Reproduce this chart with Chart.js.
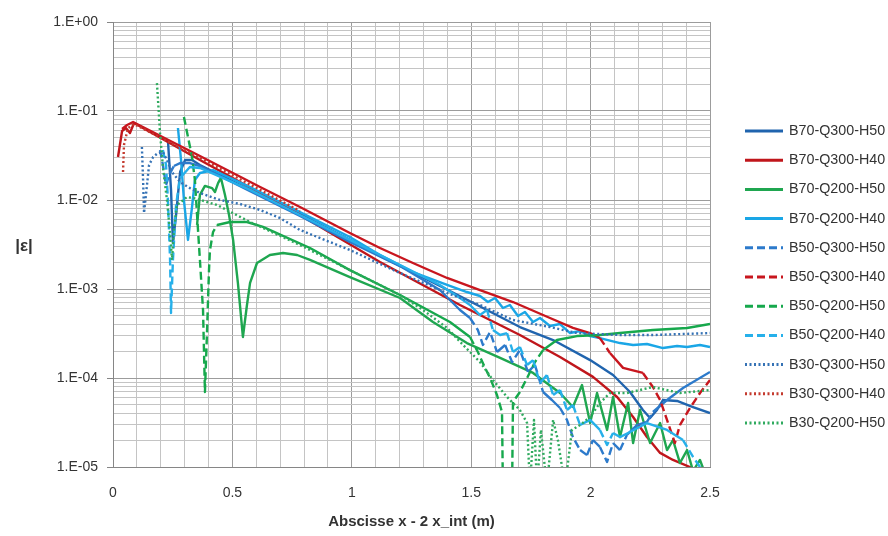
<!DOCTYPE html>
<html>
<head>
<meta charset="utf-8">
<title>|ε| versus abscisse</title>
<script src="https://cdn.jsdelivr.net/npm/chart.js@4.4.1/dist/chart.umd.min.js"></script>
<style>
  html, body { margin: 0; padding: 0; background: #ffffff; }
  #wrap { width: 888px; height: 536px; position: relative; }
</style>
</head>
<body>
<div id="wrap"><canvas id="chart" width="888" height="536"></canvas></div>
<script>
// ---- Series labels (legend order) ----
const seriesLabels = [
  'B70-Q300-H50', 'B70-Q300-H40', 'B70-Q200-H50', 'B70-Q200-H40',
  'B50-Q300-H50', 'B50-Q300-H40', 'B50-Q200-H50', 'B50-Q200-H40',
  'B30-Q300-H50', 'B30-Q300-H40', 'B30-Q200-H50'
];

// ---- Axis tick labels ----
const xTickLabels = ['0', '0.5', '1', '1.5', '2', '2.5'];
const yTickLabels = ['1.E-05', '1.E-04', '1.E-03', '1.E-02', '1.E-01', '1.E+00'];

// ---- Series values: [abscisse x - 2 x_int (m), |ε|] ----
const b70_q300_h50 = [[0.230,0.0472],[0.243,0.0130],[0.251,0.00329],[0.264,0.00678],[0.281,0.0206],[0.302,0.0281],[0.331,0.0281],[0.364,0.0247],[0.574,0.0130],[0.783,0.00696],[0.992,0.00356],[1.118,0.00235],[1.411,9.50e-4],[1.704,3.74e-4],[1.843,2.67e-4],[1.998,1.59e-4],[2.094,1.08e-4],[2.165,6.96e-5],[2.219,4.37e-5],[2.249,3.55e-5],[2.278,4.37e-5],[2.303,5.66e-5],[2.362,5.52e-5],[2.429,4.72e-5],[2.5,4.04e-5]];

const b70_q300_h40 = [[0.021,0.0304],[0.038,0.0596],[0.054,0.0644],[0.071,0.0566],[0.088,0.0733],[0.364,0.0281],[0.616,0.0120],[0.783,0.00678],[1.118,0.00201],[1.453,6.61e-4],[1.704,3.04e-4],[1.872,1.72e-4],[2.010,1.03e-4],[2.111,6.12e-5],[2.178,3.65e-5],[2.236,2.17e-5],[2.291,1.44e-5],[2.345,1.20e-5],[2.416,1.0e-5],[2.458,8.5e-6]];

const b70_q200_h50 = [[0.352,0.00524],[0.364,0.0114],[0.385,0.0144],[0.415,0.0136],[0.427,0.0123],[0.440,0.0155],[0.452,0.0177],[0.469,0.0114],[0.486,0.00678],[0.503,0.00356],[0.523,0.00117],[0.544,2.89e-4],[0.561,6.61e-4],[0.574,0.00117],[0.603,0.00196],[0.657,0.00241],[0.712,0.00254],[0.771,0.00241],[0.825,0.00212],[0.992,0.00136],[1.202,7.92e-4],[1.340,4.26e-4],[1.482,2.47e-4],[1.621,1.68e-4],[1.759,1.14e-4],[1.872,6.78e-5],[1.926,4.72e-5],[1.964,8.34e-5],[1.998,3.12e-5],[2.027,6.78e-5],[2.069,2.61e-5],[2.094,6.12e-5],[2.123,2.17e-5],[2.157,5.24e-5],[2.178,1.86e-5],[2.207,4.37e-5],[2.249,1.86e-5],[2.291,3.12e-5],[2.320,1.55e-5],[2.345,2.01e-5],[2.374,1.11e-5],[2.404,1.55e-5],[2.429,9.0e-6],[2.458,1.2e-5],[2.479,8.5e-6]];

const b70_q200_h40 = [[0.272,0.0644],[0.285,0.0281],[0.297,0.0100],[0.314,0.00356],[0.331,0.00834],[0.343,0.0168],[0.364,0.0201],[0.419,0.0217],[0.574,0.0140],[0.783,0.00733],[0.992,0.00384],[1.118,0.00241],[1.256,0.00155],[1.399,0.00111],[1.482,9.25e-4],[1.537,8.34e-4],[1.570,7.14e-4],[1.600,7.92e-4],[1.633,6.12e-4],[1.662,6.61e-4],[1.696,4.97e-4],[1.725,5.52e-4],[1.759,4.26e-4],[1.788,4.72e-4],[1.830,3.84e-4],[1.872,4.04e-4],[1.914,3.20e-4],[1.956,3.37e-4],[1.998,2.96e-4],[2.039,2.81e-4],[2.123,2.47e-4],[2.178,2.35e-4],[2.236,2.41e-4],[2.303,2.17e-4],[2.362,2.29e-4],[2.404,2.23e-4],[2.458,2.35e-4],[2.5,2.23e-4]];

const b50_q300_h50 = [[0.197,0.0365],[0.209,0.0247],[0.222,0.0147],[0.235,0.0191],[0.255,0.0241],[0.281,0.0260],[0.322,0.0260],[0.364,0.0241],[0.574,0.0126],[0.783,0.00661],[0.992,0.00338],[1.202,0.00181],[1.369,9.74e-4],[1.453,5.81e-4],[1.495,4.72e-4],[1.528,3.46e-4],[1.549,2.35e-4],[1.579,3.29e-4],[1.608,1.96e-4],[1.642,2.35e-4],[1.671,1.51e-4],[1.704,2.06e-4],[1.738,1.17e-4],[1.767,1.40e-4],[1.801,6.96e-5],[1.838,5.66e-5],[1.872,4.60e-5],[1.901,3.38e-5],[1.926,2.17e-5],[1.956,1.55e-5],[1.985,1.36e-5],[2.010,2.01e-5],[2.039,1.68e-5],[2.069,1.14e-5],[2.094,1.86e-5],[2.123,1.55e-5],[2.152,2.29e-5],[2.194,2.96e-5],[2.236,3.21e-5],[2.261,4.15e-5],[2.320,5.66e-5],[2.387,7.72e-5],[2.5,1.17e-4]];

const b50_q300_h40 = [[0.038,0.0628],[0.059,0.0696],[0.084,0.0752],[0.364,0.0312],[0.616,0.0140],[0.783,0.00834],[0.992,0.00426],[1.118,0.00289],[1.256,0.00196],[1.399,0.00133],[1.537,9.74e-4],[1.675,7.14e-4],[1.830,4.72e-4],[1.926,3.65e-4],[1.998,3.20e-4],[2.039,2.81e-4],[2.081,1.91e-4],[2.136,1.30e-4],[2.219,1.14e-4],[2.261,7.92e-5],[2.291,5.66e-5],[2.320,3.38e-5],[2.353,1.86e-5],[2.374,2.96e-5],[2.416,4.60e-5],[2.458,6.78e-5],[2.5,9.50e-5]];

const b50_q200_h50 = [[0.297,0.0857],[0.314,0.0510],[0.331,0.0304],[0.343,0.0168],[0.352,0.00678],[0.364,0.00212],[0.377,5.81e-4],[0.385,6.96e-5],[0.394,3.46e-4],[0.402,0.00163],[0.406,0.00274],[0.419,0.00437],[0.436,0.00524],[0.490,0.00566],[0.561,0.00566],[0.628,0.00498],[0.825,0.00289],[0.992,0.00163],[1.202,8.56e-4],[1.411,4.26e-4],[1.495,2.89e-4],[1.528,1.96e-4],[1.558,1.30e-4],[1.579,1.0e-4],[1.608,6.44e-5],[1.629,4.15e-5],[1.633,5e-6],[1.671,5e-6],[1.675,5.38e-5],[1.704,6.96e-5],[1.734,1.0e-4],[1.767,1.51e-4],[1.801,2.06e-4],[1.859,2.67e-4],[1.943,2.96e-4],[2.039,3.04e-4],[2.123,3.20e-4],[2.261,3.46e-4],[2.404,3.65e-4],[2.5,4.04e-4]];

const b50_q200_h40 = [[0.209,0.0365],[0.222,0.0247],[0.230,0.0100],[0.239,0.00212],[0.243,5.38e-4],[0.251,0.00212],[0.264,0.00879],[0.281,0.0177],[0.322,0.0235],[0.364,0.0229],[0.574,0.0130],[0.783,0.00678],[0.992,0.00356],[1.202,0.00186],[1.369,0.00111],[1.453,7.92e-4],[1.495,6.61e-4],[1.537,5.10e-4],[1.566,5.81e-4],[1.591,3.46e-4],[1.621,3.04e-4],[1.650,3.20e-4],[1.675,1.96e-4],[1.704,2.23e-4],[1.734,1.40e-4],[1.759,1.59e-4],[1.788,8.79e-5],[1.817,1.08e-4],[1.843,6.44e-5],[1.872,7.33e-5],[1.901,4.37e-5],[1.926,4.97e-5],[1.956,2.96e-5],[1.998,3.38e-5],[2.039,2.61e-5],[2.069,1.77e-5],[2.094,2.41e-5],[2.123,2.17e-5],[2.165,2.47e-5],[2.236,3.12e-5],[2.320,2.61e-5],[2.387,2.01e-5],[2.429,1.30e-5],[2.458,1.0e-5],[2.479,7.5e-6]];

const b30_q300_h50 = [[0.121,0.0394],[0.126,0.0168],[0.130,0.00714],[0.138,0.0114],[0.151,0.0247],[0.168,0.0304],[0.188,0.0337],[0.209,0.0346],[0.226,0.0281],[0.247,0.0206],[0.281,0.0159],[0.322,0.0136],[0.364,0.0120],[0.448,0.0100],[0.532,0.00902],[0.616,0.00772],[0.699,0.00628],[0.783,0.00460],[0.992,0.00274],[1.202,0.00151],[1.399,9.02e-4],[1.537,6.61e-4],[1.675,4.48e-4],[1.830,3.74e-4],[1.943,3.20e-4],[2.123,3.04e-4],[2.261,3.04e-4],[2.5,3.20e-4]];

const b30_q300_h40 = [[0.042,0.0206],[0.046,0.0415],[0.063,0.0644],[0.088,0.0714],[0.364,0.0296],[0.616,0.0130],[0.783,0.00752]];

const b30_q200_h50 = [[0.184,0.206],[0.197,0.0566],[0.209,0.0235],[0.226,0.0100],[0.239,0.00426],[0.247,0.00212],[0.255,0.00460],[0.268,0.00879],[0.310,0.0108],[0.352,0.0103],[0.394,0.00950],[0.436,0.00879],[0.574,0.00566],[0.783,0.00312],[0.992,0.00163],[1.202,8.56e-4],[1.298,5.81e-4],[1.399,3.65e-4],[1.466,2.35e-4],[1.537,1.51e-4],[1.591,9.50e-5],[1.650,6.12e-5],[1.704,4.37e-5],[1.734,3.12e-5],[1.746,6e-6],[1.763,3.38e-5],[1.776,6e-6],[1.792,2.61e-5],[1.817,6e-6],[1.843,3.38e-5],[1.863,2.01e-5],[1.893,6e-6],[1.922,2.61e-5],[1.956,2.96e-5],[1.998,3.65e-5],[2.039,5.24e-5],[2.081,6.78e-5],[2.152,6.78e-5],[2.261,7.92e-5],[2.374,6.78e-5],[2.5,7.33e-5]];

const seriesData = [
  b70_q300_h50, b70_q300_h40, b70_q200_h50, b70_q200_h40,
  b50_q300_h50, b50_q300_h40, b50_q200_h50, b50_q200_h40,
  b30_q300_h50, b30_q300_h40, b30_q200_h50
];

// ---- Styling ----
const seriesColors = [
  '#2064AE', '#C0161B', '#1FA650', '#1AA6E6',
  '#2C7ACB', '#C8161E', '#16A84C', '#26B0EA',
  '#3572B5', '#C43A2E', '#2FAA5E'
];
const seriesKinds = ['solid','solid','solid','solid','dash','dash','dash','dash','dot','dot','dot'];
const DASH = [8, 4];
const DOT = [2, 2.5];
const LINE_W = 2.4;
const TEXT = '#333333';
const FONT = '"Liberation Sans", Arial, sans-serif';
const GRID_MAJOR = '#9c9c9c';
const GRID_MINOR = '#c4c4c4';
const AXIS_LINE = '#868686';

// Long dashes only break up on steep segments; short shallow steps stay continuous.
function steepSegment(ctx) {
  const dx = Math.abs(ctx.p1.x - ctx.p0.x);
  const dy = Math.abs(ctx.p1.y - ctx.p0.y);
  return dy > 1.2 * dx;
}

const datasets = seriesData.map((pts, i) => {
  const kind = seriesKinds[i];
  const ds = {
    label: seriesLabels[i],
    data: pts.map(p => ({ x: p[0], y: p[1] })),
    borderColor: seriesColors[i],
    backgroundColor: seriesColors[i],
    borderWidth: LINE_W,
    borderJoinStyle: 'round',
    borderDash: kind === 'dash' ? DASH : kind === 'dot' ? DOT : [],
    pointRadius: 0,
    pointHoverRadius: 0,
    tension: 0,
    fill: false,
    order: seriesData.length - i
  };
  if (kind === 'dash') {
    ds.segment = { borderDash: c => (steepSegment(c) ? DASH : []) };
  }
  return ds;
});

const isDecade = v => {
  const l = Math.log10(v);
  return Math.abs(l - Math.round(l)) < 1e-9;
};
const isHalf = v => Math.abs(v * 2 - Math.round(v * 2)) < 1e-9;

// Legend column and the horizontal |ε| label drawn beside the plot.
const sideAnnotations = {
  id: 'sideAnnotations',
  afterDraw(chart) {
    const { ctx, chartArea } = chart;
    ctx.save();
    const lineX0 = chartArea.right + 35;
    const lineX1 = lineX0 + 38;
    const top = 131;
    const step = 29.2;
    ctx.font = '14.3px ' + FONT;
    ctx.textBaseline = 'middle';
    ctx.textAlign = 'left';
    chart.data.datasets.forEach((ds, i) => {
      const y = top + i * step;
      ctx.strokeStyle = ds.borderColor;
      ctx.lineWidth = 3;
      ctx.setLineDash(ds.borderDash || []);
      ctx.beginPath();
      ctx.moveTo(lineX0, y);
      ctx.lineTo(lineX1, y);
      ctx.stroke();
      ctx.setLineDash([]);
      ctx.fillStyle = TEXT;
      ctx.fillText(ds.label, lineX1 + 6, y);
    });
    ctx.font = 'bold 17px ' + FONT;
    ctx.textAlign = 'center';
    ctx.fillStyle = TEXT;
    ctx.fillText('|ε|', 24, 246);
    ctx.restore();
  }
};

new Chart(document.getElementById('chart'), {
  type: 'line',
  data: { datasets },
  plugins: [sideAnnotations],
  options: {
    responsive: false,
    animation: false,
    events: [],
    layout: { padding: { left: 0, right: 178, top: 22, bottom: 0 } },
    plugins: {
      legend: { display: false },
      title: { display: false },
      tooltip: { enabled: false }
    },
    scales: {
      x: {
        type: 'linear',
        min: 0,
        max: 2.5,
        afterBuildTicks: s => {
          const t = [];
          for (let k = 0; k <= 25; k++) t.push({ value: k / 10 });
          s.ticks = t;
        },
        afterFit: s => { s.height = 69; },
        ticks: {
          autoSkip: false,
          maxRotation: 0,
          minRotation: 0,
          padding: 18,
          color: TEXT,
          font: { family: FONT, size: 14 },
          callback: v => {
            const k = Math.round(v * 10);
            return k % 5 === 0 ? xTickLabels[k / 5] : '';
          }
        },
        grid: {
          drawTicks: false,
          lineWidth: 1,
          color: c => (isHalf(c.tick.value) ? GRID_MAJOR : GRID_MINOR)
        },
        border: { display: true, color: AXIS_LINE, width: 1 },
        title: {
          display: true,
          text: 'Abscisse x - 2 x_int (m)',
          color: TEXT,
          font: { family: FONT, size: 15, weight: 'bold' },
          padding: { top: 4, bottom: 5 }
        }
      },
      y: {
        type: 'logarithmic',
        min: 1e-5,
        max: 1,
        afterBuildTicks: s => {
          const t = [];
          for (let e = -5; e < 0; e++) {
            for (let m = 1; m < 10; m++) t.push({ value: m * Math.pow(10, e) });
          }
          t.push({ value: 1 });
          s.ticks = t;
        },
        afterFit: s => { s.width = 113; },
        ticks: {
          autoSkip: false,
          padding: 9,
          color: TEXT,
          font: { family: FONT, size: 14 },
          callback: v => {
            if (!isDecade(v)) return '';
            return yTickLabels[Math.round(Math.log10(v)) + 5];
          }
        },
        grid: {
          drawTicks: true,
          tickLength: 6,
          lineWidth: 1,
          color: c => (isDecade(c.tick.value) ? GRID_MAJOR : GRID_MINOR),
          tickColor: c => (isDecade(c.tick.value) ? AXIS_LINE : 'rgba(0,0,0,0)')
        },
        border: { display: true, color: AXIS_LINE, width: 1 }
      }
    }
  }
});
</script>
</body>
</html>
